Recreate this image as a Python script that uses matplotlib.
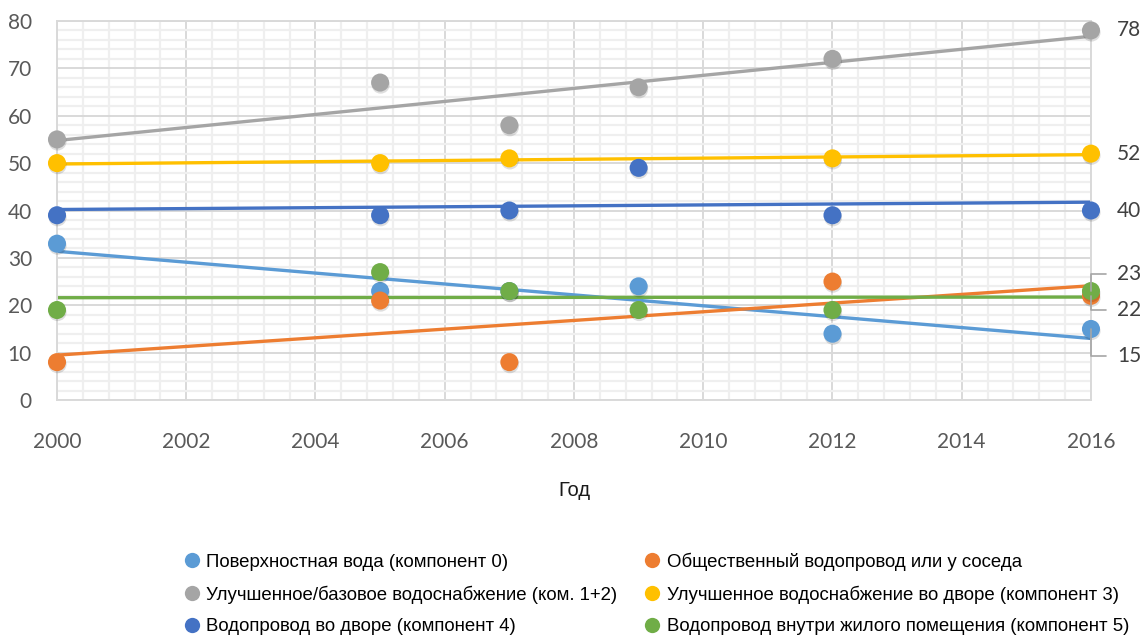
import numpy as np
import matplotlib.pyplot as plt
from matplotlib import patheffects as pe
from matplotlib.lines import Line2D

# годы обследований
years = [2000, 2005, 2007, 2009, 2012, 2016]

# доли домохозяйств, %
poverkhnostnaya = [33, 23, 23, 24, 14, 15]
obshchestvennyi = [8, 21, 8, None, 25, 22]
uluchshennoe_bazovoe = [55, 67, 58, 66, 72, 78]
uluchshennoe_dvor = [50, 50, 51, None, 51, 52]
vodoprovod_dvor = [39, 39, 40, 49, 39, 40]
vodoprovod_vnutri = [19, 27, 23, 19, 19, 23]

series = [poverkhnostnaya, obshchestvennyi, uluchshennoe_bazovoe,
          uluchshennoe_dvor, vodoprovod_dvor, vodoprovod_vnutri]
names = ['Поверхностная вода (компонент 0)',
         'Общественный водопровод или у соседа',
         'Улучшенное/базовое водоснабжение (ком. 1+2)',
         'Улучшенное водоснабжение во дворе (компонент 3)',
         'Водопровод во дворе (компонент 4)',
         'Водопровод внутри жилого помещения (компонент 5)']
colors = ['#5B9BD5', '#ED7D31', '#A5A5A5', '#FFC000', '#4472C4', '#70AD47']

# сдвиг подписей последнего значения (в пикселях)
label_shift = [-27, -14, 0, 0, 0, 17]

plt.figure(figsize=(11.4, 6.35), dpi=100)
ax = plt.axes([0.05, 0.37, 0.907, 0.597])

shadow = [pe.SimplePatchShadow(offset=(0.4, -1.5), shadow_rgbFace='k', alpha=0.13), pe.Normal()]

# линии тренда
for vals, c in zip(series, colors):
    x = np.array([y for y, v in zip(years, vals) if v is not None], dtype=float)
    y = np.array([v for v in vals if v is not None], dtype=float)
    k, b = np.polyfit(x, y, 1)
    xs = np.array([years[0], years[-1]], dtype=float)
    ax.plot(xs, k * xs + b, color=c, lw=2.4, zorder=2, solid_capstyle='butt')

# точки
for vals, c in zip(series, colors):
    x = [y for y, v in zip(years, vals) if v is not None]
    y = [v for v in vals if v is not None]
    ax.plot(x, y, 'o', color=c, ms=13, mew=0, zorder=3, clip_on=False, path_effects=shadow)

# подписи значений за последний год
for vals, dy in zip(series, label_shift):
    if dy == 0:
        ax.annotate(str(vals[-1]), xy=(years[-1], vals[-1]), xytext=(26, 0),
                    textcoords='offset pixels', ha='left', va='center',
                    fontsize=15, family='Lato', color='#404040', zorder=5)
    else:
        ax.annotate(str(vals[-1]), xy=(years[-1], vals[-1]), xytext=(26, dy),
                    textcoords='offset pixels', ha='left', va='center',
                    fontsize=15, family='Lato', color='#404040', zorder=5,
                    arrowprops=dict(arrowstyle='-', color='#a6a6a6', lw=1.2,
                                    connectionstyle='angle,angleA=0,angleB=90,rad=0',
                                    shrinkA=6, shrinkB=0))

ax.set_xlim(2000, 2016)
ax.set_ylim(0, 80)
ax.set_xticks(range(2000, 2017, 2))
ax.set_yticks(range(0, 81, 10))
ax.set_xticks(np.arange(2000, 2016.01, 0.4), minor=True)
ax.set_yticks(range(0, 81, 2), minor=True)
ax.grid(which='major', color='#d9d9d9', lw=1.4)
ax.grid(which='minor', color='#efefef', lw=1.6)
ax.set_axisbelow(True)
for s in ax.spines.values():
    s.set_color('#d9d9d9')
    s.set_linewidth(1.4)
ax.tick_params(which='both', length=0)
ax.tick_params(axis='x', pad=23, labelsize=15, labelcolor='#595959')
ax.tick_params(axis='y', pad=18, labelsize=15, labelcolor='#595959')
for t in ax.get_xticklabels() + ax.get_yticklabels():
    t.set_family('Lato')
ax.set_xlabel('Год', family='Liberation Sans', fontsize=14.5, color='#1a1a1a', labelpad=21)

handles = [Line2D([], [], ls='none', marker='o', ms=11, mew=0, color=c) for c in colors]
order = [0, 2, 4, 1, 3, 5]
plt.figlegend([handles[i] for i in order], [names[i] for i in order],
              loc='center left', bbox_to_anchor=(0.155, 0.0646), ncol=2,
              frameon=False, handlelength=0.8, handletextpad=0.4,
              columnspacing=1.45, labelspacing=0.78, borderaxespad=0,
              prop={'family': 'Liberation Sans', 'size': 13.4})

plt.savefig('out.png', dpi=100)
